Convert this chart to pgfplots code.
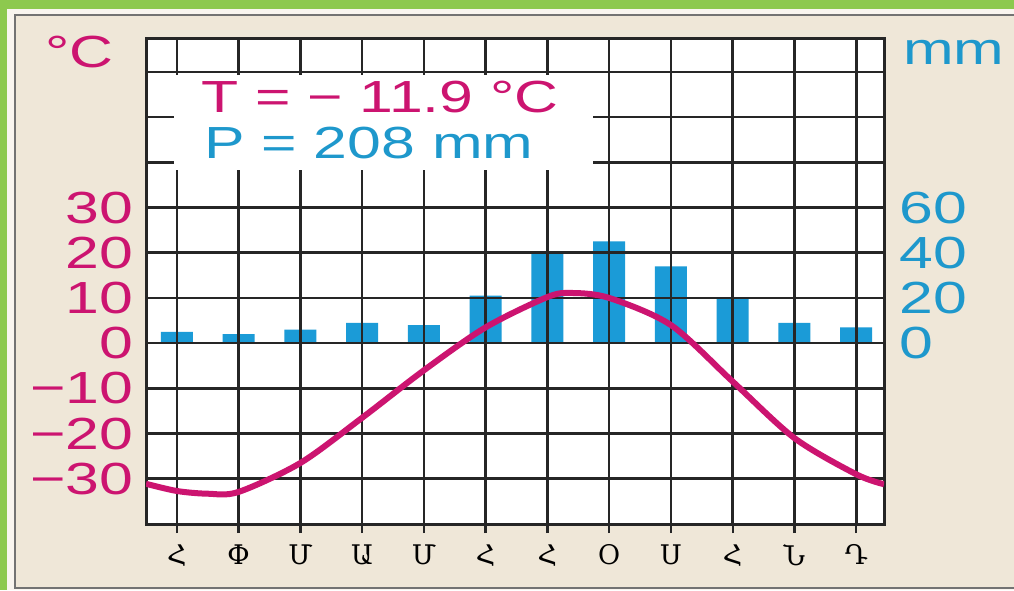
\documentclass[border=0pt]{standalone}
\usepackage{pgfplots}
\pgfplotsset{compat=1.18}
\usepackage{pgfplotstable}
\usepackage{fontspec}
\setmainfont{Liberation Sans}
\newfontfamily\wf[FakeStretch=1.35]{Liberation Sans}
\newfontfamily\armf[Script=Armenian]{DejaVu Serif}
\definecolor{bg}{HTML}{EFE7D8}
\definecolor{grn}{HTML}{8DC94E}
\definecolor{mag}{HTML}{CC1470}
\definecolor{blu}{HTML}{1B9BD7}
\definecolor{blutxt}{HTML}{1E98CC}

\pgfplotstableread{
m mm
1 5
2 4
3 6
4 9
5 8
6 21
7 40
8 45
9 34
10 20
11 9
12 7
}\prec

\begin{document}
\begin{tikzpicture}[x=1pt,y=1pt]
\clip (0,0) rectangle (1014,590);
\fill[grn] (0,0) rectangle (1014,590);
\fill[bg!40!white] (7,0) rectangle (1014,581);
\fill[bg] (15,2) rectangle (1014,575);
\draw[black!55, line width=1.5pt] (15,2) rectangle (1030,575);
\node[anchor=base west, inner sep=0, text=mag, font=\wf\fontsize{45}{50}\selectfont] at (45,522) {°C};
\node[anchor=base west, inner sep=0, text=blutxt, font=\wf\fontsize{45}{50}\selectfont] at (903,525) {mm};
\begin{axis}[at={(146pt,66pt)}, anchor=south west, scale only axis,
  width=738pt, height=486pt, xmin=0.5, xmax=12.45, ymin=-80, ymax=135,
  axis line style={draw=none}, xtick=\empty, ytick={0,20,40,60},
  yticklabels={0,20,40,60},
  yticklabel pos=right, tick style={draw=none},
  axis background/.style={fill=white},
  yticklabel style={font=\wf\fontsize{45}{50}\selectfont, text=blutxt, xshift=12pt}]
\addplot[ybar, bar width=32pt, fill=blu, draw=none] table[x=m,y=mm]{\prec};
\end{axis}
\begin{axis}[at={(146pt,66pt)}, anchor=south west, scale only axis,
  width=738pt, height=486pt, xmin=0.5, xmax=12.45, ymin=-40, ymax=67.5,
  xtick={1,...,12},
  xticklabels={Հ,Փ,Մ,Ա,Մ,Հ,Հ,Օ,Ս,Հ,Ն,Դ},
  ytick={-30,-20,...,60},
  yticklabels={−30,−20,−10,0,10,20,30,{},{},{}},
  grid=major, major grid style={black!85, line width=2.6pt},
  axis line style={black!85, line width=3pt},
  tick align=outside, xtick pos=left, major tick length=9pt,
  ytick style={draw=none}, xtick style={black!85, line width=2.4pt},
  yticklabel style={font=\wf\fontsize{45}{50}\selectfont, text=mag},
  xticklabel style={font=\armf\fontsize{27}{29}\selectfont, yshift=-8pt}]
\fill[white] (axis cs:0.95,38.3) rectangle (axis cs:7.73,59.4);
\node[anchor=base west, inner sep=0, text=mag, font=\wf\fontsize{45}{50}\selectfont] at (axis cs:1.39,51.05) {T = − 11.9 °C};
\node[anchor=base west, inner sep=0, text=blutxt, font=\wf\fontsize{45}{50}\selectfont] at (axis cs:1.44,40.9) {P = 208 mm};
\addplot[smooth, mag, line width=6pt] coordinates {(0.5,-31.1) (1,-32.7) (1.5,-33.3) (2,-32.9) (3,-26.5) (4,-16.5) (5,-6) (6,3.5) (7,10.2) (7.4,11.1) (8,10) (9,4) (10,-8.5) (11,-21) (12,-29) (12.45,-31.2)};
\end{axis}
\end{tikzpicture}
\end{document}
